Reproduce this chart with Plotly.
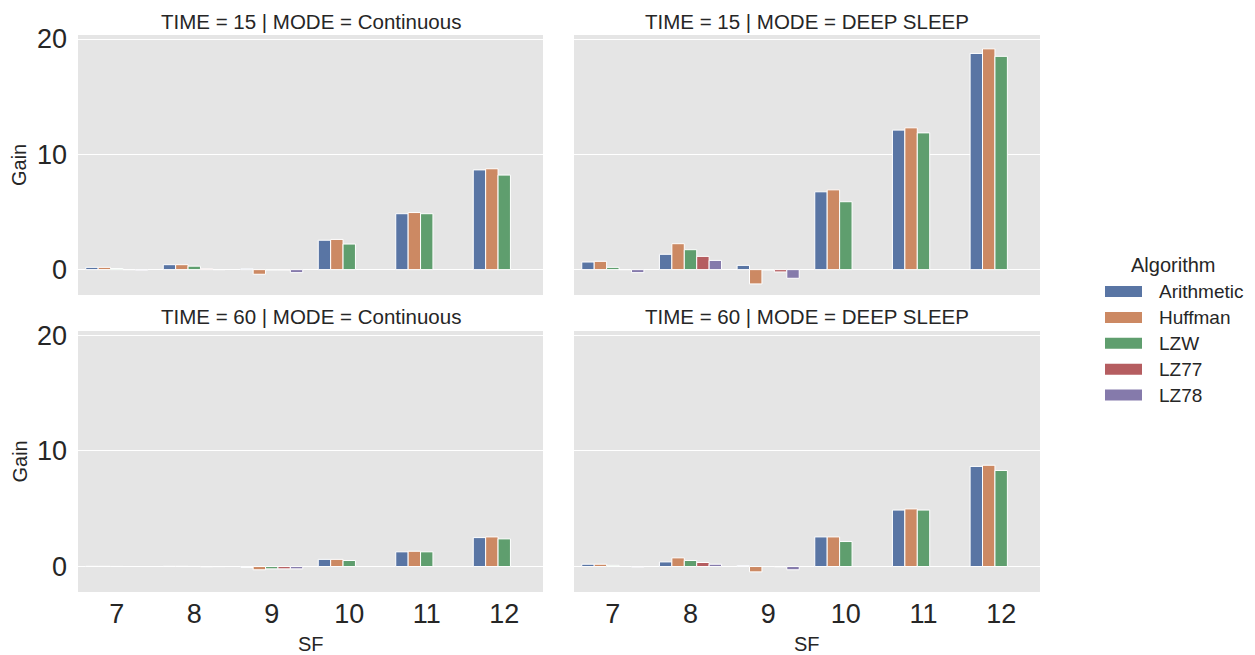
import plotly.graph_objects as go

# Spreading-factor categories and compression algorithms
sf = ["7", "8", "9", "10", "11", "12"]
algorithms = ["Arithmetic", "Huffman", "LZW", "LZ77", "LZ78"]
colors = ["#5975A4", "#CC8963", "#5F9E6E", "#B55D60", "#857AAB"]

# Gain per algorithm (rows follow `algorithms`), one table per facet
t15_continuous = [
    [0.20, 0.43, 0.08, 2.55, 4.85, 8.65],
    [0.20, 0.43, -0.40, 2.62, 4.95, 8.75],
    [0.10, 0.30, -0.03, 2.22, 4.85, 8.20],
    [0.00, 0.08, -0.03, None, None, None],
    [-0.05, 0.00, -0.26, None, None, None],
]
t15_deep_sleep = [
    [0.66, 1.33, 0.37, 6.75, 12.10, 18.75],
    [0.72, 2.25, -1.24, 6.92, 12.30, 19.15],
    [0.20, 1.73, -0.03, 5.89, 11.86, 18.50],
    [0.00, 1.15, -0.20, None, None, None],
    [-0.26, 0.80, -0.75, None, None, None],
]
t60_continuous = [
    [0.02, 0.02, -0.08, 0.62, 1.27, 2.50],
    [0.02, 0.02, -0.28, 0.62, 1.32, 2.56],
    [0.01, 0.01, -0.20, 0.52, 1.27, 2.39],
    [0.00, -0.02, -0.20, None, None, None],
    [0.00, -0.01, -0.20, None, None, None],
]
t60_deep_sleep = [
    [0.20, 0.40, 0.08, 2.56, 4.88, 8.65],
    [0.20, 0.75, -0.46, 2.56, 4.98, 8.75],
    [0.10, 0.52, 0.00, 2.16, 4.88, 8.30],
    [0.00, 0.35, -0.02, None, None, None],
    [-0.05, 0.20, -0.28, None, None, None],
]

facets = [
    ("TIME = 15 | MODE = Continuous", t15_continuous),
    ("TIME = 15 | MODE = DEEP SLEEP", t15_deep_sleep),
    ("TIME = 60 | MODE = Continuous", t60_continuous),
    ("TIME = 60 | MODE = DEEP SLEEP", t60_deep_sleep),
]

W, H = 1255, 655
FONT = "Liberation Sans, Arial, sans-serif"
TXT = "#262626"

# facet boxes in pixels: (left, right, top, bottom)
cols = [(78, 543), (574, 1040)]
rows = [(35, 295), (331, 592)]

def px_x(v):
    return v / W

def px_y(v):
    return 1 - v / H

fig = go.Figure()
layout = dict(
    width=W, height=H,
    margin=dict(l=0, r=0, t=0, b=0, autoexpand=False),
    paper_bgcolor="white",
    plot_bgcolor="#E5E5E5",
    barmode="group",
    bargap=0.2,
    bargroupgap=0,
    showlegend=False,
    font=dict(family=FONT, color=TXT),
)

annotations = []
for k, (title, table) in enumerate(facets):
    r, c = divmod(k, 2)
    idx = "" if k == 0 else str(k + 1)
    xa, ya = "x" + idx, "y" + idx
    for name, vals, col in zip(algorithms, table, colors):
        fig.add_trace(go.Bar(
            x=sf, y=vals, name=name, xaxis=xa, yaxis=ya,
            marker=dict(color=col, line=dict(color="white", width=1)),
            offsetgroup=name, showlegend=False,
        ))
    l, rr = cols[c]
    t, b = rows[r]
    layout["xaxis" + idx] = dict(
        domain=[px_x(l), px_x(rr)], anchor=ya,
        type="category", categoryorder="array", categoryarray=sf,
        range=[-0.5, 5.5], showgrid=False, zeroline=False,
        showticklabels=(r == 1), ticks="", automargin=False,
        ticklabelstandoff=3,
        tickfont=dict(size=27, color=TXT, family=FONT),
        showline=False,
    )
    layout["yaxis" + idx] = dict(
        domain=[px_y(b), px_y(t)], anchor=xa,
        range=[-2.2, 20.35], tickvals=[0, 10, 20],
        showgrid=True, gridcolor="white", gridwidth=1,
        zeroline=True, zerolinecolor="white", zerolinewidth=1,
        showticklabels=(c == 0), ticks="", automargin=False,
        ticklabelstandoff=10,
        tickfont=dict(size=27, color=TXT, family=FONT),
        showline=False,
    )
    annotations.append(dict(
        text=title, x=px_x((l + rr) / 2), y=px_y(t - 14),
        xref="paper", yref="paper", showarrow=False,
        xanchor="center", yanchor="middle",
        font=dict(size=20.5, color=TXT, family=FONT),
    ))

# axis titles
for t, b in rows:
    annotations.append(dict(
        text="Gain", x=px_x(19), y=px_y((t + b) / 2), textangle=-90,
        xref="paper", yref="paper", showarrow=False,
        xanchor="center", yanchor="middle",
        font=dict(size=20, color=TXT, family=FONT),
    ))
for l, rr in cols:
    annotations.append(dict(
        text="SF", x=px_x((l + rr) / 2), y=px_y(644),
        xref="paper", yref="paper", showarrow=False,
        xanchor="center", yanchor="middle",
        font=dict(size=20, color=TXT, family=FONT),
    ))

# legend drawn as swatches and labels
shapes = []
annotations.append(dict(
    text="Algorithm", x=px_x(1173), y=px_y(265),
    xref="paper", yref="paper", showarrow=False,
    xanchor="center", yanchor="middle",
    font=dict(size=20, color=TXT, family=FONT),
))
for i, (name, col) in enumerate(zip(algorithms, colors)):
    cy = 291.5 + i * 25.9
    shapes.append(dict(
        type="rect", xref="paper", yref="paper",
        x0=px_x(1105), x1=px_x(1142), y0=px_y(cy - 5.5), y1=px_y(cy + 5.5),
        fillcolor=col, line=dict(width=0),
    ))
    annotations.append(dict(
        text=name, x=px_x(1157), y=px_y(cy),
        xref="paper", yref="paper", showarrow=False,
        xanchor="left", yanchor="middle",
        font=dict(size=19, color=TXT, family=FONT),
    ))

layout["annotations"] = annotations
layout["shapes"] = shapes
fig.update_layout(**layout)
fig.write_html("out.html")
